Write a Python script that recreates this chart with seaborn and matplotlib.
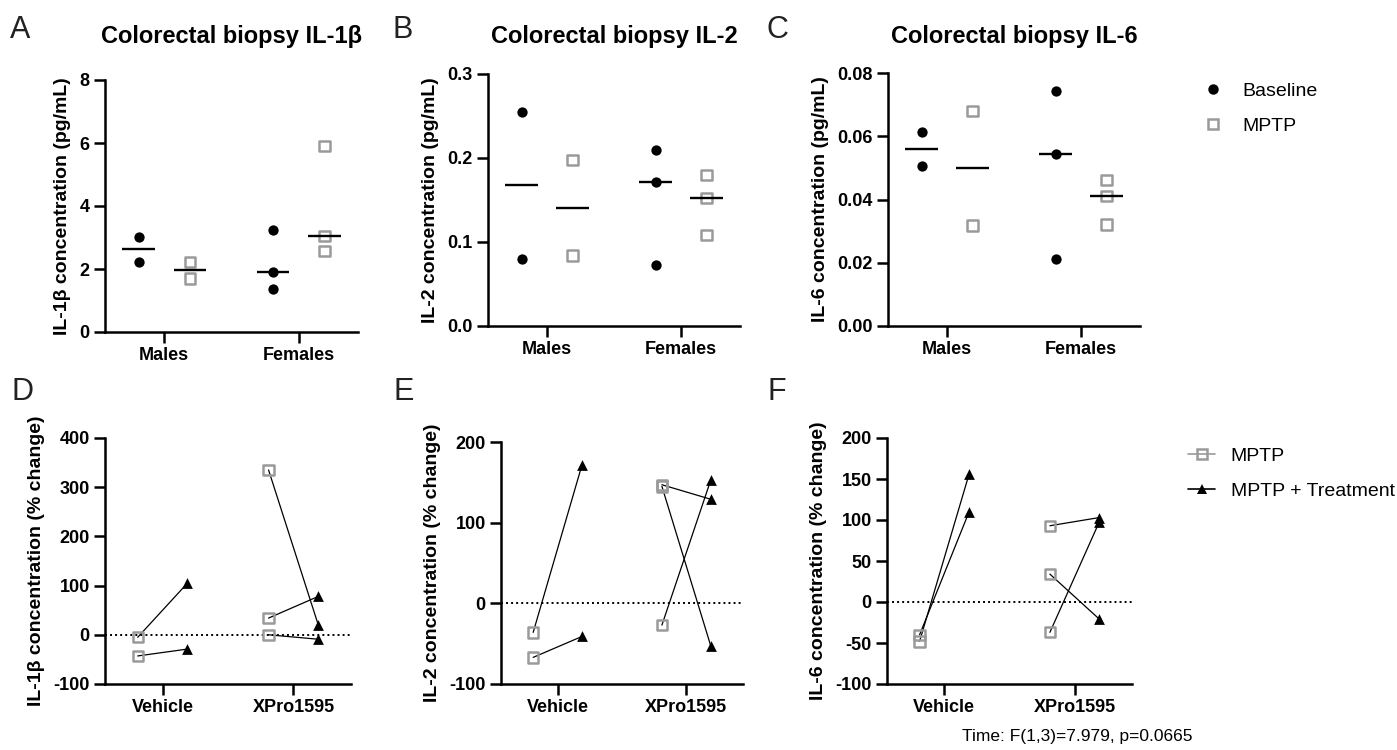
import numpy as np
import pandas as pd
import seaborn as sns
import matplotlib
matplotlib.use("Agg")
from matplotlib import pyplot as plt
from matplotlib.lines import Line2D

# ---- colorectal biopsy concentrations (pg/mL) ----
sexes = ["Males", "Females"]

il1b_base_males = [3.03, 2.23]
il1b_base_females = [3.24, 1.91, 1.35]
il1b_mptp_males = [2.23, 1.70]
il1b_mptp_females = [5.91, 3.05, 2.58]

il2_base_males = [0.255, 0.080]
il2_base_females = [0.210, 0.172, 0.073]
il2_mptp_males = [0.198, 0.084]
il2_mptp_females = [0.180, 0.152, 0.108]

il6_base_males = [0.0614, 0.0506]
il6_base_females = [0.0742, 0.0545, 0.0212]
il6_mptp_males = [0.0680, 0.0318]
il6_mptp_females = [0.0461, 0.0410, 0.0321]

# ---- % change, paired MPTP -> MPTP + Treatment ----
treatments = ["Vehicle", "XPro1595"]

il1b_pct_mptp_vehicle = [-5, -43]
il1b_pct_treat_vehicle = [105, -29]
il1b_pct_mptp_xpro = [335, 34, 0]
il1b_pct_treat_xpro = [20, 78, -9]

il2_pct_mptp_vehicle = [-36, -67]
il2_pct_treat_vehicle = [172, -41]
il2_pct_mptp_xpro = [147, 145, -27]
il2_pct_treat_xpro = [129, -53, 153]

il6_pct_mptp_vehicle = [-48, -40]
il6_pct_treat_vehicle = [156, 110]
il6_pct_mptp_xpro = [93, 34, -37]
il6_pct_treat_xpro = [103, -21, 98]

stats_note = "Time: F(1,3)=7.979, p=0.0665"

W, H = 1397, 750
GREY = "#9a9a9a"
OFFSET = 0.19

sns.set_theme(style="ticks", rc={
    "axes.edgecolor": "black", "xtick.color": "black", "ytick.color": "black",
    "text.color": "black", "axes.labelcolor": "black",
})
plt.rcParams["font.family"] = ["Liberation Sans", "DejaVu Sans"]
plt.rcParams["axes.unicode_minus"] = False


def add_ax(fig, x0, y0, x1, y1):
    # pixel box (top-left origin) -> figure fraction
    return fig.add_axes([x0 / W, 1 - y1 / H, (x1 - x0) / W, (y1 - y0) / H])


def biopsy_frame(base_m, base_f, mptp_m, mptp_f):
    rows = []
    for group, per_sex, off in [("Baseline", [base_m, base_f], -OFFSET),
                                ("MPTP", [mptp_m, mptp_f], OFFSET)]:
        for i, vals in enumerate(per_sex):
            for v in vals:
                rows.append({"sex": sexes[i], "group": group, "x": i + off, "value": v})
    return pd.DataFrame(rows)


def change_frame(m_veh, t_veh, m_xp, t_xp):
    rows = []
    pair = 0
    for i, (m_vals, t_vals) in enumerate([(m_veh, t_veh), (m_xp, t_xp)]):
        for m, t in zip(m_vals, t_vals):
            rows.append({"pair": pair, "cond": "MPTP", "x": i - OFFSET, "value": m})
            rows.append({"pair": pair, "cond": "MPTP + Treatment", "x": i + OFFSET, "value": t})
            pair += 1
    return pd.DataFrame(rows)


def style_axes(ax, cats, ylim, yticks, yticklabels, ylabel):
    ax.set_xlim(-0.44, 1.44)
    ax.set_ylim(*ylim)
    ax.set_xticks([0, 1], cats)
    ax.set_yticks(yticks, yticklabels)
    ax.set_xlabel("")
    ax.set_ylabel(ylabel, fontsize=14, fontweight="bold", labelpad=6)
    sns.despine(ax=ax)
    for sp in ("left", "bottom"):
        ax.spines[sp].set_linewidth(1.8)
    ax.tick_params(width=1.8, length=8, labelsize=13, pad=3)
    for lab in ax.get_xticklabels() + ax.get_yticklabels():
        lab.set_fontweight("bold")


def draw_biopsy(ax, df):
    base = df[df["group"] == "Baseline"]
    mptp = df[df["group"] == "MPTP"]
    sns.scatterplot(data=base, x="x", y="value", color="black", marker="o",
                    s=55, linewidth=0, ax=ax, zorder=3, clip_on=False)
    sns.scatterplot(data=mptp, x="x", y="value", color=GREY, marker="s", s=55,
                    facecolor="none", edgecolor=GREY, linewidth=1.8, ax=ax, zorder=3)
    med = df.groupby("x")["value"].median()
    ax.hlines(med.values, med.index - 0.12, med.index + 0.12, color="black", lw=1.7, zorder=4)


def draw_change(ax, df):
    ax.axhline(0, color="black", lw=1.4, ls=(0, (1, 1.6)), zorder=1)
    sns.lineplot(data=df, x="x", y="value", units="pair", estimator=None, sort=False,
                 color="black", lw=0.9, ax=ax, zorder=2)
    sns.scatterplot(data=df[df["cond"] == "MPTP"], x="x", y="value", color=GREY, marker="s",
                    s=55, facecolor="none", edgecolor=GREY, linewidth=1.8, ax=ax, zorder=3)
    sns.scatterplot(data=df[df["cond"] != "MPTP"], x="x", y="value", color="black", marker="^",
                    s=60, linewidth=0, ax=ax, zorder=3)


fig = plt.figure(figsize=(W / 100, H / 100), dpi=100)

# ---- top row ----
top_panels = [
    ("A", "Colorectal biopsy IL-1β", (105, 80, 358, 332),
     biopsy_frame(il1b_base_males, il1b_base_females, il1b_mptp_males, il1b_mptp_females),
     (0, 8), [0, 2, 4, 6, 8], ["0", "2", "4", "6", "8"], "IL-1β concentration (pg/mL)", 10),
    ("B", "Colorectal biopsy IL-2", (488, 74, 740, 326),
     biopsy_frame(il2_base_males, il2_base_females, il2_mptp_males, il2_mptp_females),
     (0, 0.3), [0, 0.1, 0.2, 0.3], ["0.0", "0.1", "0.2", "0.3"], "IL-2 concentration (pg/mL)", 392),
    ("C", "Colorectal biopsy IL-6", (888, 73, 1140, 326),
     biopsy_frame(il6_base_males, il6_base_females, il6_mptp_males, il6_mptp_females),
     (0, 0.08), [0, 0.02, 0.04, 0.06, 0.08], ["0.00", "0.02", "0.04", "0.06", "0.08"],
     "IL-6 concentration (pg/mL)", 767),
]

for letter, title, box, df, ylim, yt, ytl, ylabel, lx in top_panels:
    ax = add_ax(fig, *box)
    draw_biopsy(ax, df)
    style_axes(ax, sexes, ylim, yt, ytl, ylabel)
    cx = (box[0] + box[2]) / 2
    fig.text(cx / W, 1 - 37 / H, title, ha="center", va="center", fontsize=17, fontweight="bold")
    fig.text(lx / W, 1 - 30 / H, letter, ha="left", va="center", fontsize=22, color="#222222")

# ---- bottom row ----
bottom_panels = [
    ("D", (105, 438, 351, 684),
     change_frame(il1b_pct_mptp_vehicle, il1b_pct_treat_vehicle, il1b_pct_mptp_xpro, il1b_pct_treat_xpro),
     (-100, 400), [-100, 0, 100, 200, 300, 400], "IL-1β concentration (% change)", 12),
    ("E", (501, 442, 743, 684),
     change_frame(il2_pct_mptp_vehicle, il2_pct_treat_vehicle, il2_pct_mptp_xpro, il2_pct_treat_xpro),
     (-100, 200), [-100, 0, 100, 200], "IL-2 concentration (% change)", 393),
    ("F", (887, 438, 1132, 684),
     change_frame(il6_pct_mptp_vehicle, il6_pct_treat_vehicle, il6_pct_mptp_xpro, il6_pct_treat_xpro),
     (-100, 200), [-100, -50, 0, 50, 100, 150, 200], "IL-6 concentration (% change)", 767),
]

for letter, box, df, ylim, yt, ylabel, lx in bottom_panels:
    ax = add_ax(fig, *box)
    draw_change(ax, df)
    style_axes(ax, treatments, ylim, yt, [str(v) for v in yt], ylabel)
    fig.text(lx / W, 1 - 392 / H, letter, ha="left", va="center", fontsize=22, color="#222222")

fig.text(1077 / W, 1 - 737 / H, stats_note, ha="center", va="center", fontsize=12.5)

# ---- legends ----
top_handles = [
    Line2D([], [], ls="none", marker="o", markersize=7.5, color="black", markeredgewidth=0),
    Line2D([], [], ls="none", marker="s", markersize=7, markerfacecolor="none",
           markeredgecolor=GREY, markeredgewidth=1.8),
]
fig.legend(top_handles, ["Baseline", "MPTP"], loc="upper left",
           bbox_to_anchor=(1203 / W, 1 - 82 / H), frameon=False, fontsize=14,
           handlelength=1.0, handletextpad=1.0, labelspacing=0.9, borderpad=0, borderaxespad=0)

bottom_handles = [
    Line2D([], [], color=GREY, lw=1.2, marker="s", markersize=7, markerfacecolor="none",
           markeredgecolor=GREY, markeredgewidth=1.8),
    Line2D([], [], color="black", lw=1.2, marker="^", markersize=7.5, markeredgewidth=0),
]
fig.legend(bottom_handles, ["MPTP", "MPTP + Treatment"], loc="upper left",
           bbox_to_anchor=(1188 / W, 1 - 447 / H), frameon=False, fontsize=14,
           handlelength=1.4, handletextpad=0.8, labelspacing=0.9, borderpad=0, borderaxespad=0)

fig.savefig("out.png", dpi=100)
